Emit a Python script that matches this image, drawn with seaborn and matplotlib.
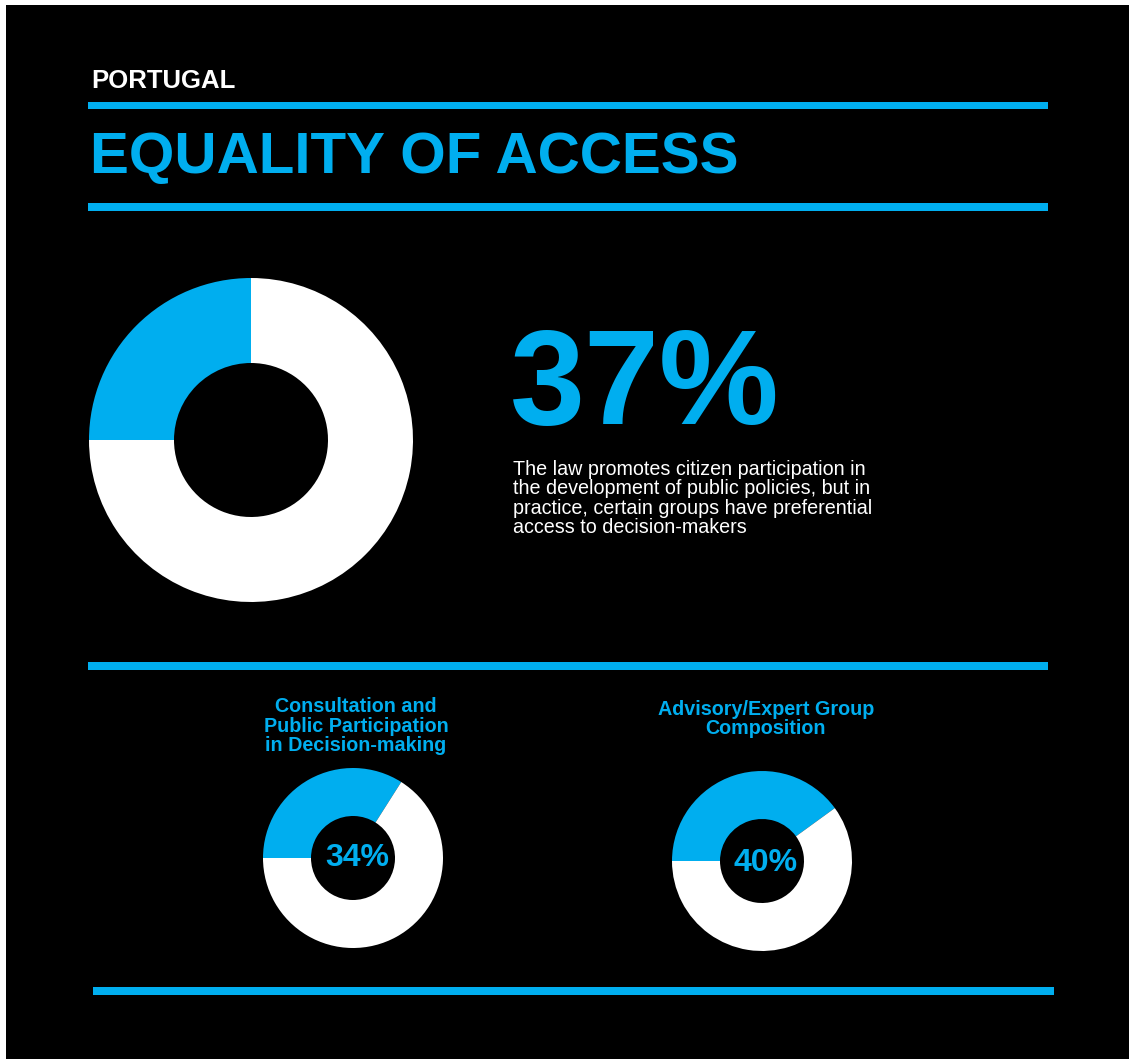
import matplotlib
matplotlib.use("Agg")
import matplotlib.pyplot as plt
from matplotlib.patches import Rectangle
import seaborn as sns

# ---------------- data ----------------
country = "PORTUGAL"
title = "EQUALITY OF ACCESS"
main_label = "37%"
main_ring = [25, 75]          # visual share of the big ring (blue, white)
main_text = [
    "The law promotes citizen participation in",
    "the development of public policies, but in",
    "practice, certain groups have preferential",
    "access to decision-makers",
]
sub_titles = [
    ["Consultation and", "Public Participation", "in Decision-making"],
    ["Advisory/Expert Group", "Composition"],
]
sub_values = [34, 40]
sub_labels = ["34%", "40%"]

# ---------------- style ----------------
sns.set_theme(style="dark")
plt.rcParams['font.family'] = ['Liberation Sans', 'DejaVu Sans']
BLUE = "#00AEEF"
WHITE = "#FFFFFF"
palette = sns.color_palette([BLUE, WHITE])

W, H = 1129, 1059
fig = plt.figure(figsize=(W / 100, H / 100), dpi=100, facecolor="white")
ax = fig.add_axes([0, 0, 1, 1])


def Y(y):
    return H - y


# black panel
ax.add_patch(Rectangle((6, -10), W + 10, H + 5, facecolor="black", edgecolor="none", zorder=0))

# horizontal rules (x0, x1, y_top, y_bottom) in pixel coords
rules = [(88, 1048, 102, 109), (88, 1048, 203, 211), (88, 1048, 662, 670), (93, 1054, 987, 995)]
for x0, x1, yt, yb in rules:
    ax.add_patch(Rectangle((x0, Y(yb)), x1 - x0, yb - yt, facecolor=BLUE, edgecolor="none", zorder=1))

# headings
ax.text(91, Y(88), country, color="white", fontsize=18.5, fontweight="bold", ha="left", va="baseline")
ax.text(90, Y(173), title, color=BLUE, fontsize=42, fontweight="bold", ha="left", va="baseline")

# main donut
ax.pie(main_ring, colors=palette, startangle=180, counterclock=False,
       center=(251, Y(440)), radius=162,
       wedgeprops=dict(width=85, edgecolor="none", linewidth=0))

ax.text(510, Y(424), main_label, color=BLUE, fontsize=97, fontweight="bold", ha="left", va="baseline")
for i, line in enumerate(main_text):
    ax.text(513, Y(475 + i * 19.3), line, color="white", fontsize=14.2, ha="left", va="baseline")

# sub donuts
centers = [(353, 858), (762, 861)]
title_x = [356, 766]
title_base = [712, 715]
for k in range(2):
    cx, cy = centers[k]
    v = sub_values[k]
    ax.pie([v, 100 - v], colors=palette, startangle=180, counterclock=False,
           center=(cx, Y(cy)), radius=90,
           wedgeprops=dict(width=48, edgecolor="none", linewidth=0))
    for i, line in enumerate(sub_titles[k]):
        ax.text(title_x[k], Y(title_base[k] + i * 19.5), line, color=BLUE, fontsize=14.2,
                fontweight="bold", ha="center", va="baseline")

ax.text(357, Y(866), sub_labels[0], color=BLUE, fontsize=23, fontweight="bold", ha="center", va="baseline")
ax.text(766, Y(871), sub_labels[1], color=BLUE, fontsize=23, fontweight="bold", ha="center", va="baseline")

ax.set_xlim(0, W)
ax.set_ylim(0, H)
ax.set_aspect("auto")
ax.axis("off")

fig.savefig("out.png", dpi=100, facecolor="white")
